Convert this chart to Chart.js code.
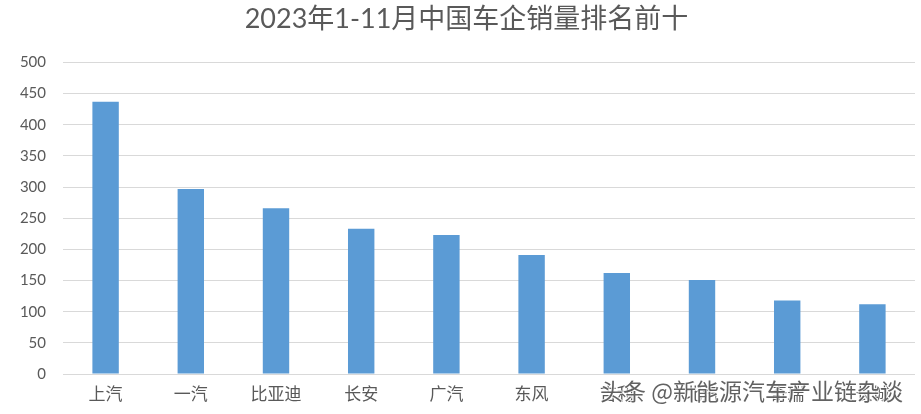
<!DOCTYPE html>
<html>
<head>
<meta charset="utf-8">
<script src="https://cdn.jsdelivr.net/npm/chart.js@4/dist/chart.umd.min.js"></script>
<style>
html,body{margin:0;padding:0;background:#fff;}
#wrap{width:921px;height:414px;position:relative;}
</style>
</head>
<body>
<div id="wrap"><canvas id="c" width="921" height="414"></canvas></div>
<script>
const title = "2023年1-11月中国车企销量排名前十";
const categories = ["上汽","一汽","比亚迪","长安","广汽","东风","吉利","北汽","奇瑞","长城"];
const sales = [437, 297, 266, 233, 223, 191, 162, 151, 118, 112];
const yTicks = [0,50,100,150,200,250,300,350,400,450,500];
const watermark = "头条 @新能源汽车产业链杂谈";

const FONT = "Lato, 'Noto Sans CJK SC', sans-serif";
const GREY = "#595959";

const watermarkPlugin = {
  id: 'wm',
  afterDraw(chart) {
    const ctx = chart.ctx;
    ctx.save();
    ctx.font = "23px 'Noto Sans CJK SC', sans-serif";
    ctx.textBaseline = "middle";
    ctx.textAlign = "left";
    ctx.lineWidth = 2;
    ctx.lineJoin = "round";
    ctx.strokeStyle = "rgba(255,255,255,0.8)";
    ctx.strokeText(watermark, 600, 391);
    ctx.fillStyle = "rgba(70,70,70,0.85)";
    ctx.fillText(watermark, 600, 391);
    ctx.restore();
  }
};

new Chart(document.getElementById('c'), {
  type: 'bar',
  data: {
    labels: categories,
    datasets: [{
      data: sales,
      backgroundColor: '#5b9bd5',
      borderWidth: 0,
      categoryPercentage: 1.0,
      barPercentage: 0.31
    }]
  },
  options: {
    responsive: false,
    animation: false,
    layout: { padding: { left: 18, right: 6, top: 0, bottom: 0 } },
    plugins: {
      legend: { display: false },
      tooltip: { enabled: false },
      title: {
        display: true,
        text: title,
        color: GREY,
        font: { family: FONT, size: 27, weight: 'normal', lineHeight: 1.2 },
        padding: { top: 3, bottom: 27 }
      }
    },
    scales: {
      x: {
        grid: { display: false, drawTicks: false },
        border: { display: false },
        ticks: { color: GREY, font: { family: FONT, size: 17 }, padding: 10, maxRotation: 0 },
        afterFit(axis) { axis.height = 40; }
      },
      y: {
        min: 0, max: 500,
        afterBuildTicks(axis) { axis.ticks = yTicks.map(v => ({ value: v })); },
        grid: { color: '#d9d9d9', lineWidth: 1, drawTicks: false },
        border: { display: false },
        ticks: { color: GREY, font: { family: FONT, size: 15 }, padding: 17 },
        afterFit(axis) { axis.width = 45; }
      }
    }
  },
  plugins: [watermarkPlugin]
});
</script>
</body>
</html>
